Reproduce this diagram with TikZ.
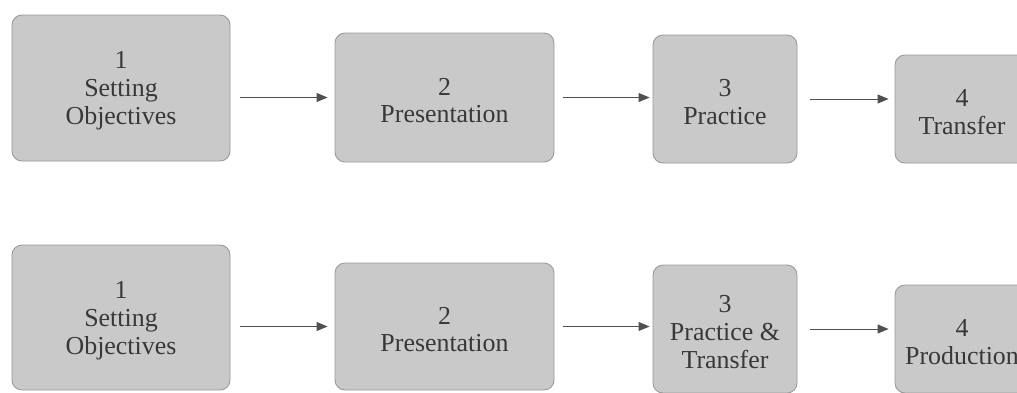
\documentclass[tikz,border=0pt]{standalone}
\usepackage{fontspec}
\setmainfont{Liberation Serif}
\usetikzlibrary{arrows.meta}
\definecolor{boxfill}{HTML}{C9C9C9}
\definecolor{boxline}{HTML}{9A9A9A}
\definecolor{txt}{HTML}{383838}
\definecolor{arr}{HTML}{505050}
\tikzset{
  stepbox/.style={draw=boxline, line width=0.9bp, fill=boxfill, rounded corners=10bp,
    inner sep=0pt},
  steptext/.style={align=center, text=txt, inner sep=0pt, yshift=-3bp,
    font=\fontsize{26}{28}\selectfont},
  flowarrow/.style={draw=arr, line width=0.9bp, -{Triangle[length=11bp,width=9bp]}}
}
\begin{document}
\begin{tikzpicture}[x=1bp,y=-1bp]
\useasboundingbox (0,0) rectangle (1017,392);
\clip (0,0) rectangle (1017,392);
\fill[white] (0,0) rectangle (1017,392);
% top row
\node[stepbox, minimum width=218bp, minimum height=146bp,
  label={[steptext]center:{1\\Setting\\Objectives}}] (a1) at (121,88) {};
\node[stepbox, minimum width=219bp, minimum height=129bp,
  label={[steptext]center:{2\\Presentation}}] (a2) at (444.5,97.5) {};
\node[stepbox, minimum width=144bp, minimum height=128bp,
  label={[steptext]center:{3\\Practice}}] (a3) at (725,99) {};
\node[stepbox, minimum width=134bp, minimum height=108bp,
  label={[steptext]center:{4\\Transfer}}] (a4) at (962,109) {};
% bottom row
\node[stepbox, minimum width=218bp, minimum height=145bp,
  label={[steptext]center:{1\\Setting\\Objectives}}] (b1) at (121,317.5) {};
\node[stepbox, minimum width=219bp, minimum height=127bp,
  label={[steptext]center:{2\\Presentation}}] (b2) at (444.5,326.5) {};
\node[stepbox, minimum width=144bp, minimum height=128bp,
  label={[steptext]center:{3\\Practice \&\\Transfer}}] (b3) at (725,329) {};
\node[stepbox, minimum width=134bp, minimum height=108bp,
  label={[steptext]center:{4\\Production}}] (b4) at (962,339) {};
% arrows
\draw[flowarrow, shorten <=10bp, shorten >=7bp] (a1.east |- a2.west) -- (a2.west);
\draw[flowarrow, shorten <=9bp, shorten >=3bp] (a2.east) -- (a3.west |- a2.east);
\draw[flowarrow, shorten <=13bp, shorten >=6bp] (a3.east) -- (a4.west |- a3.east);
\draw[flowarrow, shorten <=10bp, shorten >=7bp] (b1.east |- b2.west) -- (b2.west);
\draw[flowarrow, shorten <=9bp, shorten >=3bp] (b2.east) -- (b3.west |- b2.east);
\draw[flowarrow, shorten <=13bp, shorten >=6bp] (b3.east) -- (b4.west |- b3.east);
\end{tikzpicture}
\end{document}
